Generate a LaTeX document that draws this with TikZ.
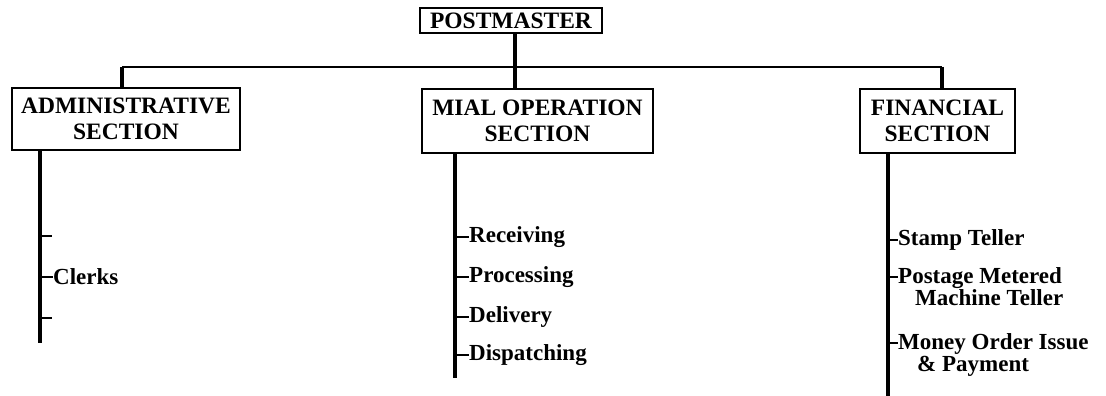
\documentclass[tikz,border=0pt]{standalone}
\usepackage{fontspec}
\setmainfont{Liberation Serif}
\begin{document}
\begin{tikzpicture}[x=1pt,y=-1pt,
  box/.style={draw,line width=1.6pt,inner sep=0pt,align=center,
    font=\bfseries\fontsize{23.5}{26}\selectfont},
  item/.style={anchor=west,inner sep=0pt,align=left,
    font=\bfseries\fontsize{23}{22}\selectfont},
  stem/.style={line width=3.5pt},
  bus/.style={line width=1.6pt},
  tick/.style={line width=1.2pt}]
\useasboundingbox (0,0) rectangle (1106,396);

% boxes
\node[box,minimum width=182pt,minimum height=25pt] (pm) at (511,20.5) {POSTMASTER};
\node[box,minimum width=228pt,minimum height=62pt] (adm) at (126,119) {ADMINISTRATIVE\\SECTION};
\node[box,minimum width=231pt,minimum height=64pt] (mail) at (537.5,121) {MIAL OPERATION\\SECTION};
\node[box,minimum width=155pt,minimum height=64pt] (fin) at (937.5,121) {FINANCIAL\\SECTION};

% bus linking the three sections
\coordinate (busL) at (122,67);
\coordinate (busM) at (515,67);
\coordinate (busR) at (942,67);
\draw[bus] (busL) -- (busR);
\draw[stem] (busM |- pm.south) -- (busM |- mail.north);
\draw[stem] (busL) -- (busL |- adm.north);
\draw[stem] (busR) -- (busR |- fin.north);

% stems below the sections
\coordinate (aS) at (40,343);
\coordinate (mS) at (455,378);
\coordinate (fS) at (888,396);
\draw[stem] (aS |- adm.south) -- (aS);
\draw[stem] (mS |- mail.south) -- (mS);
\draw[stem] (fS |- fin.south) -- (fS);

% administrative
\coordinate (a1) at (52,236);
\node[item] (clerks) at (53,277) {Clerks};
\coordinate (a3) at (52,318);
\draw[tick] (a1 -| aS) -- (a1);
\draw[tick] (clerks.west -| aS) -- (clerks.west);
\draw[tick] (a3 -| aS) -- (a3);

% mail operation
\node[item] (rec) at (469,237) {Receiving};
\node[item] (pro) at (469,277) {Processing};
\node[item] (del) at (469,317) {Delivery};
\node[item] (dis) at (469,355) {Dispatching};
\foreach \n in {rec,pro,del,dis}
  \draw[tick] (\n.west -| mS) -- (\n.west);

% financial
\node[item] (st) at (898,240) {Stamp Teller};
\node[item,anchor=north west] (pmt) at (898,267) {Postage Metered\\\hspace*{17pt}Machine Teller};
\node[item,anchor=north west] (mo) at (898,333) {Money Order Issue\\\hspace*{19pt}\& Payment};
\coordinate (t2) at (898,277);
\coordinate (t3) at (898,343);
\draw[tick] (st.west -| fS) -- (st.west);
\draw[tick] (t2 -| fS) -- (t2);
\draw[tick] (t3 -| fS) -- (t3);
\end{tikzpicture}
\end{document}
